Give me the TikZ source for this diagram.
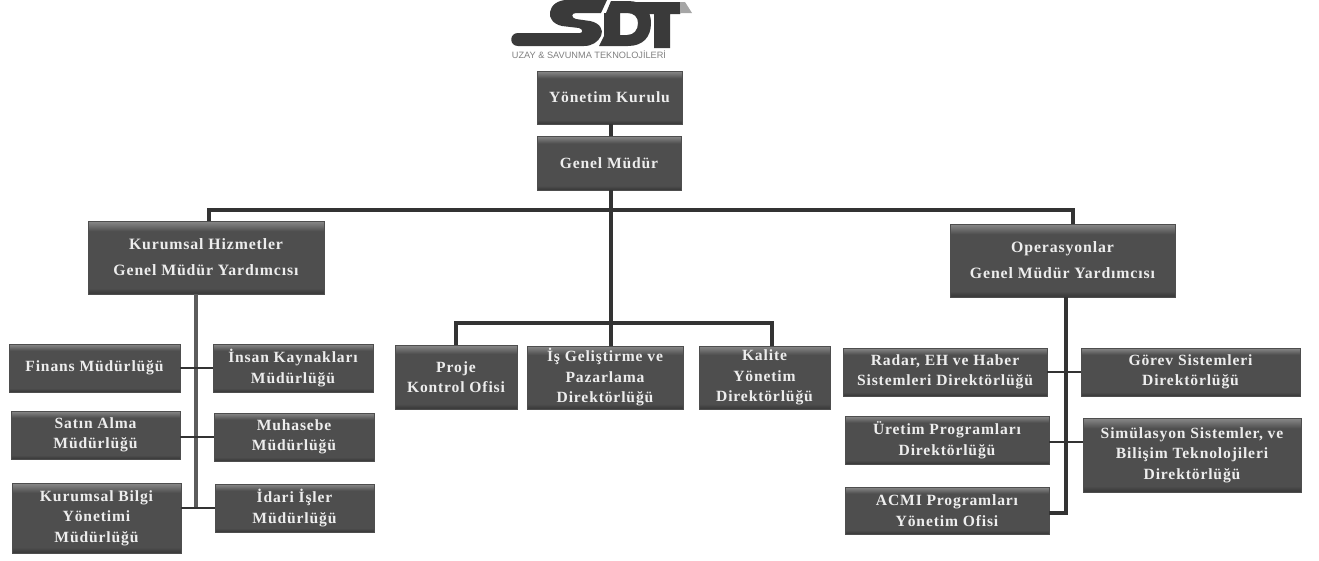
\documentclass[tikz,border=0pt]{standalone}
\usepackage{fontspec}
\setmainfont[LetterSpace=5.5]{Liberation Serif}
\definecolor{sdtdark}{HTML}{3C3C3C}
\definecolor{sdtmid}{HTML}{4E4E4E}
\definecolor{sdttop}{HTML}{8A8A8A}
\definecolor{sdtink}{HTML}{3A3A3A}
\definecolor{sdtline}{HTML}{333333}
\definecolor{sdttext}{HTML}{EDEDED}
\pgfdeclareverticalshading{boxsh}{100bp}{
  color(0bp)=(sdtdark);
  color(26bp)=(sdtdark);
  color(29bp)=(sdtmid);
  color(68bp)=(sdtmid);
  color(75bp)=(sdttop);
  color(100bp)=(sdttop)}
\tikzset{
  x=1pt,y=-1pt,
  box/.style={rectangle,draw=sdtmid,line width=.4pt,shading=boxsh,text=sdttext,
    inner sep=0pt,align=center,font=\bfseries\fontsize{15.6}{20.5}\selectfont},
  wide/.style={font=\bfseries\fontsize{15.8}{26}\selectfont},
  conn/.style={draw=sdtline,line width=3.6pt},
  thin conn/.style={draw=sdtline,line width=2.8pt},
  spine/.style={draw=sdtline!80,line width=3.4pt},
  logo/.style={fill=sdtink,draw=none},
}
\newcommand{\bx}[7][]{%
  \node[box,#1,minimum width={(#5-#3)*1pt},minimum height={(#6-#4)*1pt}] (#2)
    at ({(#3+#5)/2},{(#4+#6)/2}) {#7};}
\begin{document}
\begin{tikzpicture}
\useasboundingbox (0,0) rectangle (1319,560);
% logo
\path[logo] (518,33) -- (580,33) .. controls (583,33) and (583,29) .. (579,28)
  -- (562,26) .. controls (553,24) and (549,18) .. (550,12)
  .. controls (551,5) and (558,0) .. (567,0) -- (607,0) -- (601,13) -- (576,13)
  .. controls (571,13) and (571,18) .. (576,19) -- (590,21)
  .. controls (600,23) and (604,30) .. (601,36)
  .. controls (598,42) and (592,46) .. (584,46) -- (518,46)
  .. controls (509,46) and (509,33) .. (518,33) -- cycle;
\path[logo,even odd rule] (611,1) -- (628,1) .. controls (643,1) and (651,10) .. (651,23)
  .. controls (651,37) and (643,46) .. (628,46) -- (599,46) -- (604,36) -- (604,13) -- (606,13) -- cycle
  (620,13) -- (620,35) -- (627,35) .. controls (634,35) and (638,30) .. (638,23)
  .. controls (638,17) and (634,13) .. (627,13) -- cycle;
\path[logo] (636,2) -- (684,2) -- (680,14) -- (670,14) -- (670,48) -- (654,48) -- (654,14) -- (636,14) -- cycle;
\path[fill=gray!70] (680,2) -- (685,2) -- (692,13) -- (680,13) -- cycle;
\node[inner sep=0pt,text=gray,font=\fontsize{9.2}{10}\selectfont] (logotext) at (589,55) {\fontspec{Liberation Sans}UZAY \& SAVUNMA TEKNOLOJİLERİ};
% boxes
\bx{yk}{537}{71}{682}{124}{Yönetim Kurulu}
\bx{gm}{537}{136}{681}{190}{Genel Müdür}
\bx[wide]{kh}{88}{221}{324}{294}{Kurumsal Hizmetler\\Genel Müdür Yardımcısı}
\bx[wide]{op}{950}{224}{1175}{297}{Operasyonlar\\Genel Müdür Yardımcısı}
\bx{fin}{9}{344}{180}{392}{Finans Müdürlüğü}
\bx{ins}{213}{344}{373}{392}{İnsan Kaynakları\\Müdürlüğü}
\bx{sat}{11}{411}{180}{459}{Satın Alma\\Müdürlüğü}
\bx{muh}{214}{413}{374}{461}{Muhasebe\\Müdürlüğü}
\bx{kbi}{12}{483}{181}{553}{Kurumsal Bilgi\\Yönetimi\\Müdürlüğü}
\bx{ida}{215}{484}{374}{532}{İdari İşler\\Müdürlüğü}
\bx{pro}{395}{345}{517}{409}{Proje\\Kontrol Ofisi}
\bx{isg}{527}{346}{683}{409}{İş Geliştirme ve\\Pazarlama\\Direktörlüğü}
\bx{kal}{699}{346}{830}{409}{Kalite\\Yönetim\\Direktörlüğü}
\bx{rad}{843}{348}{1047}{396}{Radar, EH ve Haber\\Sistemleri Direktörlüğü}
\bx{gor}{1081}{348}{1300}{396}{Görev Sistemleri\\Direktörlüğü}
\bx{ure}{845}{416}{1049}{464}{Üretim Programları\\Direktörlüğü}
\bx{sim}{1083}{418}{1301}{492}{Simülasyon Sistemler, ve\\Bilişim Teknolojileri\\Direktörlüğü}
\bx{acm}{845}{487}{1049}{534}{ACMI Programları\\Yönetim Ofisi}
% junctions
\coordinate (top) at (611,210);
\coordinate (topl) at (209,210);
\coordinate (topr) at (1073,210);
\coordinate (mid) at (611,323);
\coordinate (midl) at (456,323);
\coordinate (midr) at (772,323);
\coordinate (lsp) at (196,508);
\coordinate (rsp) at (1066,513);
\coordinate (lr1) at (196,368);
\coordinate (lr2) at (196,437);
\coordinate (rr1) at (1066,372);
\coordinate (rr2) at (1066,442);
% connectors
\draw[conn] (yk.south -| top) -- (gm.north -| top);
\draw[conn] (gm.south -| top) -- (top) -- (isg.north -| top);
\draw[conn] (kh.north -| topl) -- (topl) -- (topr) -- (op.north -| topr);
\draw[conn] (pro.north -| midl) -- (midl) -- (midr) -- (kal.north -| midr);
\draw[spine] (kh.south -| lsp) -- (lsp);
\draw[thin conn] (fin.east |- lr1) -- (ins.west |- lr1);
\draw[thin conn] (sat.east |- lr2) -- (muh.west |- lr2);
\draw[thin conn] (kbi.east |- lsp) -- (ida.west |- lsp);
\draw[conn] (op.south -| rsp) -- (rsp) -- (acm.east |- rsp);
\draw[thin conn] (rad.east |- rr1) -- (gor.west |- rr1);
\draw[thin conn] (ure.east |- rr2) -- (sim.west |- rr2);
\end{tikzpicture}
\end{document}
